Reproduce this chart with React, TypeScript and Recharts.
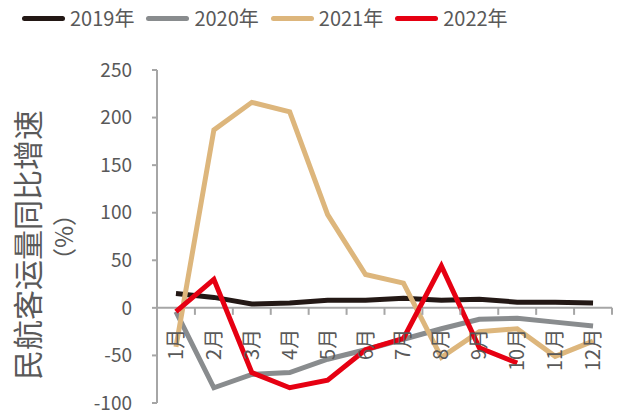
import React from 'react';
import { LineChart, Line, XAxis, YAxis, ReferenceLine, Label } from 'recharts';

const months = ['1月', '2月', '3月', '4月', '5月', '6月', '7月', '8月', '9月', '10月', '11月', '12月'];
const s2019 = [15, 11, 4, 5, 8, 8, 10, 8, 9, 6, 6, 5];
const s2020 = [-4, -84, -70, -68, -54, -44, -33, -22, -12, -11, -15, -19];
const s2021 = [-41, 187, 216, 206, 98, 35, 26, -52, -25, -22, -51, -35];
const s2022 = [-4, 30, -68, -84, -76, -44, -32, 44, -42, -58, null, null];
const yTicks = [-100, -50, 0, 50, 100, 150, 200, 250];

const series = [
  { key: 'y2019', name: '2019年', color: '#231815', values: s2019 },
  { key: 'y2020', name: '2020年', color: '#898C8E', values: s2020 },
  { key: 'y2021', name: '2021年', color: '#DDB67C', values: s2021 },
  { key: 'y2022', name: '2022年', color: '#E60012', values: s2022 },
];

const data = months.map((m, i) => {
  const row: any = { month: m };
  series.forEach(s => { row[s.key] = s.values[i]; });
  return row;
});

const W = 625;
const H = 414;
const XH = 10;
const M = { top: 70, right: 13, bottom: 1, left: 0 };
const YW = 157;
const plotW = W - M.right - M.left - YW;
const plotH = H - M.top - M.bottom - XH;
const zeroY = M.top + plotH * 250 / 350;
const bw = plotW / months.length;
const FONT = '"Noto Sans CJK SC", "Noto Sans", sans-serif';
const AXIS = '#A6A6A6';
const TEXT = '#595959';

const MonthTick = (props: any) => {
  const { x, index, payload } = props;
  const ty = zeroY + 21;
  return (
    <g>
      <line x1={x - bw / 2} y1={zeroY} x2={x - bw / 2} y2={zeroY + 7} stroke={AXIS} strokeWidth={2} />
      {index === months.length - 1 && (
        <line x1={x + bw / 2} y1={zeroY} x2={x + bw / 2} y2={zeroY + 7} stroke={AXIS} strokeWidth={2} />
      )}
      <text
        x={x}
        y={ty}
        dy="0.35em"
        textAnchor="end"
        transform={`rotate(-90 ${x} ${ty})`}
        fill={TEXT}
        fontSize={20}
        fontFamily={FONT}
      >
        {payload.value}
      </text>
    </g>
  );
};

const YLabel = () => (
  <g>
    <text x={26} y={245} transform="rotate(-90 26 245)" textAnchor="middle" dominantBaseline="central"
      fill={TEXT} fontSize={30} fontFamily={FONT}>民航客运量同比增速</text>
    <text x={62} y={237} transform="rotate(-90 62 237)" textAnchor="middle" dominantBaseline="central"
      fill={TEXT} fontSize={24} fontFamily={FONT}>（%）</text>
  </g>
);

export default function App() {
  return (
    <div style={{ position: 'absolute', left: 0, top: 0, width: W, height: H, background: '#fff' }}>
      <div style={{ position: 'absolute', left: 22, top: 5, display: 'flex', alignItems: 'center', fontFamily: FONT, fontSize: 20, color: TEXT }}>
        {series.map(s => (
          <div key={s.key} style={{ display: 'flex', alignItems: 'center', marginRight: 12 }}>
            <div style={{ width: 43, height: 5, borderRadius: 3, background: s.color, marginRight: 5 }} />
            <span style={{ lineHeight: '26px' }}>{s.name}</span>
          </div>
        ))}
      </div>
      <LineChart width={W} height={H} data={data} margin={M}>
        <XAxis
          dataKey="month"
          scale="band"
          axisLine={false}
          tickLine={false}
          height={XH}
          interval={0}
          tick={MonthTick}
        />
        <YAxis
          width={YW}
          domain={[-100, 250]}
          ticks={yTicks}
          interval={0}
          axisLine={{ stroke: AXIS, strokeWidth: 2 }}
          tickLine={{ stroke: AXIS, strokeWidth: 2 }}
          tickSize={5}
          tickMargin={20}
          tick={{ fill: TEXT, fontSize: 19, fontFamily: FONT }}
        >
          <Label content={<YLabel />} />
        </YAxis>
        <ReferenceLine y={0} stroke={AXIS} strokeWidth={2} />
        {series.map(s => (
          <Line
            key={s.key}
            dataKey={s.key}
            name={s.name}
            stroke={s.color}
            strokeWidth={5}
            dot={false}
            activeDot={false}
            type="linear"
            isAnimationActive={false}
          />
        ))}
      </LineChart>
    </div>
  );
}
